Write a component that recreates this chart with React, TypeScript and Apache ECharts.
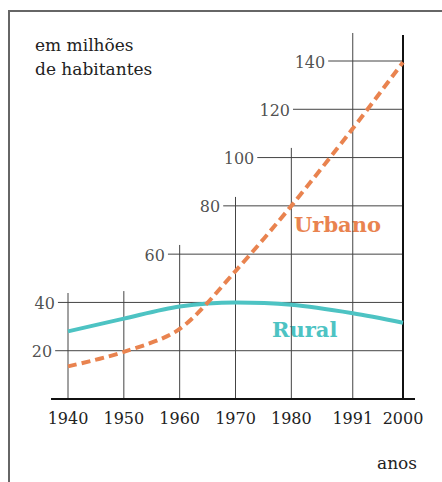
import React, { useEffect, useRef } from "react";
import * as echarts from "echarts";

const years = [1940, 1950, 1960, 1970, 1980, 1991, 2000];
const urbano = [13.5, 19.5, 29, 53, 80, 112, 139.5];
const rural = [28, 33.3, 38.3, 40, 39, 35.5, 31.6];

// staircase grid: horizontal lines (value, start year) and vertical lines (year, top value)
const hLineValues = [20, 40, 60, 80, 100, 120, 140];
const hLineStartYears = [1937.7, 1938.2, 1957.9, 1967.8, 1973.9, 1980.3, 1986.6];
const vLineTopValues = [43.9, 44.7, 63.8, 83.7, 104, 151.6, 150.8];
const axisExtent = [1936.96, 2002.15];

const SERIF = "DejaVu Serif";

export default function App() {
  const ref = useRef<HTMLDivElement>(null);
  useEffect(() => {
    document.body.style.margin = "0";
    const chart = echarts.init(ref.current!, null, { renderer: "svg" });

    const gridItems: any[] = [];
    hLineValues.forEach((v, i) => gridItems.push({ value: [i], kind: "h" }));
    years.forEach((y, i) => gridItems.push({ value: [i], kind: "v" }));
    gridItems.push({ value: [0], kind: "axis" });

    const ttl = (text: string, left: number, top: number, size: number, color: string, bold: boolean, lh: number) => ({
      text,
      left,
      top,
      padding: 0,
      z: 0,
      textStyle: {
        fontFamily: SERIF,
        fontSize: size,
        fontWeight: bold ? "bold" : "normal",
        color,
        lineHeight: lh,
      },
    });

    const option: any = {
      animation: false,
      title: [
        ttl("em milhões\nde habitantes", 35, 33, 17, "#222", false, 24),
        ttl("anos", 377, 454, 17, "#222", false, 17),
        ttl("Urbano", 294, 214, 21, "#E9834F", true, 21),
        ttl("Rural", 272, 319, 21, "#4DC3C3", true, 21),
      ],
      grid: { left: 68, right: 39, top: 61, bottom: 83 },
      xAxis: {
        type: "value",
        min: 1940,
        max: 2000,
        axisLine: { show: false },
        axisTick: { show: false },
        splitLine: { show: false },
        axisLabel: {
          customValues: years,
          formatter: (v: number) => String(v),
          fontFamily: SERIF,
          fontSize: 16,
          color: "#222",
          margin: 11,
        },
      },
      yAxis: { type: "value", min: 0, max: 140, show: false },
      graphic: [
        {
          type: "polyline",
          shape: { points: [[9, 482], [9, 11], [442, 11]] },
          style: { stroke: "#666", lineWidth: 2, fill: "none" },
          z: 1,
        },
      ],
      series: [
        {
          type: "custom",
          z: 2,
          data: gridItems,
          renderItem: (params: any, api: any) => {
            const item = gridItems[params.dataIndex];
            const i = item.value[0];
            if (item.kind === "h") {
              const v = hLineValues[i];
              const p1 = api.coord([hLineStartYears[i], v]);
              const p2 = api.coord([2000, v]);
              return {
                type: "line",
                shape: { x1: p1[0], y1: p1[1], x2: p2[0], y2: p2[1] },
                style: { stroke: "#444", lineWidth: 1 },
              };
            }
            if (item.kind === "v") {
              const yr = years[i];
              const p1 = api.coord([yr, 0]);
              const p2 = api.coord([yr, vLineTopValues[i]]);
              const last = i === years.length - 1;
              return {
                type: "line",
                shape: { x1: p1[0], y1: p1[1], x2: p2[0], y2: p2[1] },
                style: { stroke: last ? "#111" : "#444", lineWidth: last ? 2 : 1 },
              };
            }
            const a = api.coord([axisExtent[0], 0]);
            const b = api.coord([axisExtent[1], 0]);
            return {
              type: "line",
              shape: { x1: a[0], y1: a[1], x2: b[0], y2: b[1] },
              style: { stroke: "#111", lineWidth: 2 },
            };
          },
        },
        {
          type: "scatter",
          z: 2,
          symbolSize: 0,
          silent: true,
          clip: false,
          data: hLineValues.map((v, i) => [hLineStartYears[i], v]),
          label: {
            show: true,
            position: "left",
            distance: 3,
            offset: [0, 1],
            formatter: (p: any) => String(p.value[1]),
            fontFamily: SERIF,
            fontSize: 16,
            color: "#222",
          },
        },
        {
          name: "Rural",
          type: "line",
          z: 3,
          smooth: 0.3,
          symbol: "none",
          data: years.map((y, i) => [y, rural[i]]),
          lineStyle: { color: "#4DC3C3", width: 4 },
        },
        {
          name: "Urbano",
          type: "line",
          z: 4,
          smooth: 0.3,
          symbol: "none",
          data: years.map((y, i) => [y, urbano[i]]),
          lineStyle: { color: "#E9834F", width: 4, type: [9, 5] },
        },
      ],
    };
    chart.setOption(option);
    return () => chart.dispose();
  }, []);
  return <div ref={ref} style={{ width: 442, height: 482 }} />;
}
